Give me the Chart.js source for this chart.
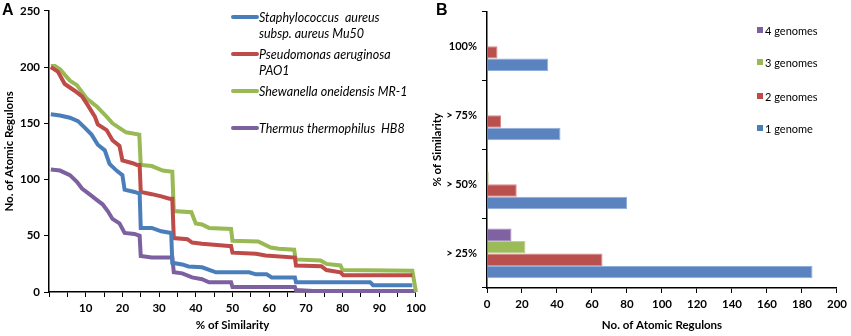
<!DOCTYPE html>
<html>
<head>
<meta charset="utf-8">
<script src="https://cdn.jsdelivr.net/npm/chart.js@4.4.1/dist/chart.umd.min.js"></script>
<style>
  html, body { margin: 0; padding: 0; background: #fff; }
  #wrap { position: relative; width: 851px; height: 336px; }
  #chartA { position: absolute; left: 0; top: 0; }
  #chartB { position: absolute; left: 430px; top: 0; }
</style>
</head>
<body>
<div id="wrap">
  <canvas id="chartA" width="430" height="336"></canvas>
  <canvas id="chartB" width="421" height="336"></canvas>
</div>
<script>
// Panel A : curvas por organismo (x = % de similitud, y = nº de regulones)
const staphX = [0.5, 3, 5.7, 7.9, 9.8, 11.6, 13.3, 15.2, 16.5, 18.4, 20, 20.6, 23.3, 24.7, 25, 28, 30.6, 33.3, 33.6, 36.3, 38, 41.7, 45.5, 54.5, 56.4, 59.3, 60.7, 67, 67.3, 87.5, 88.3, 99];
const staphY = [158, 157, 155, 152, 146, 140, 131, 126, 114, 108, 104, 91, 89, 87.5, 57, 57, 54, 52.5, 26, 24.5, 22.7, 22, 17.5, 17.5, 15.7, 15.7, 13, 13, 8.7, 8.7, 6, 6];

const pseudoX = [0.5, 2.4, 4.3, 7, 9, 10.6, 12.5, 13.3, 15.7, 17.3, 19.2, 20, 22.8, 24, 24.7, 25, 28, 30.6, 32.8, 33.6, 34, 37.7, 39, 41.7, 49, 49.6, 50, 56.4, 59, 67, 67.3, 74.2, 75.6, 79.4, 80.2, 99];
const pseudoY = [200, 196, 185, 179, 174, 166, 156, 149, 144, 135, 130, 117, 114.5, 113, 113, 89, 87, 85, 83, 83, 48, 47, 44, 43, 41, 41, 35, 34, 32.5, 30.6, 23.6, 23, 19.5, 17.5, 15, 15];

const shewX = [0.5, 1.6, 3, 5.7, 7.6, 10.3, 13, 15.7, 17.3, 21, 24.6, 25, 28, 31, 33.6, 34, 38.8, 40, 41.7, 43.6, 49.6, 50, 57, 60.4, 62.6, 66.8, 67.2, 74, 75.6, 79.4, 80, 99, 100];
const shewY = [201, 201, 198, 188, 184, 172, 165, 156, 150, 142, 140, 113, 112, 108, 107, 72, 71, 61, 60, 57, 56, 45.5, 45, 39.5, 38.5, 37.6, 29, 28, 25, 23.6, 19.5, 19, 0];

const thermX = [0.5, 3, 5.7, 7.6, 9, 11, 13, 14.6, 16, 17.3, 19.2, 20.6, 23.3, 24.7, 25, 28, 33.6, 34, 36.3, 39, 41.7, 43.6, 49.6, 50, 67, 67.3, 72, 100];
const thermY = [109, 108, 104, 98, 92, 87, 82, 78, 72, 65, 61, 52.5, 51.6, 50, 32, 30.6, 30.6, 17.5, 16.6, 13, 11.4, 8.7, 8.7, 4.4, 4.4, 1.7, 1, 0.8];

const organismos = [
  ['Staphylococcus  aureus', 'subsp. aureus Mu50'],
  ['Pseudomonas aeruginosa', 'PAO1'],
  ['Shewanella oneidensis MR-1'],
  ['Thermus thermophilus  HB8']
];

// Panel B : barras horizontales
const categorias = ['100%', '> 75%', '> 50%', '> 25%'];
const unGenoma = [35, 42, 80, 186];
const dosGenomas = [6, 8, 17, 66];
const tresGenomas = [0, 0, 1, 22];
const cuatroGenomas = [0, 0, 0, 14];
const etiquetasB = ['4 genomes', '3 genomes', '2 genomes', '1 genome'];

// Colores estilo Excel
const azul = '#4A7EBB', rojo = '#BE4B48', verde = '#98B954', morado = '#7D60A0';
const FONT = 'Lato, "Open Sans", sans-serif';

function puntos(xs, ys) {
  return xs.map((x, i) => ({ x: x, y: ys[i] }));
}

// Leyenda del panel A, dibujada dentro del área del gráfico
const leyendaA = {
  id: 'leyendaA',
  afterDraw(chart) {
    const ctx = chart.ctx;
    const colores = [azul, rojo, verde, morado];
    const ys = [17, 54, 91, 128];
    ctx.save();
    ctx.font = 'italic 12.5px ' + FONT;
    ctx.fillStyle = '#000';
    ctx.textBaseline = 'middle';
    organismos.forEach((lineas, i) => {
      ctx.strokeStyle = colores[i];
      ctx.lineWidth = 4;
      ctx.lineCap = 'round';
      ctx.beginPath();
      ctx.moveTo(233, ys[i]);
      ctx.lineTo(257, ys[i]);
      ctx.stroke();
      lineas.forEach((t, j) => ctx.fillText(t, 259, ys[i] + 1 + j * 16));
    });
    ctx.font = 'bold 16px Arial, sans-serif';
    ctx.textBaseline = 'top';
    ctx.fillText('A', 2, 3);
    ctx.restore();
  }
};

const leyendaB = {
  id: 'leyendaB',
  afterDraw(chart) {
    const ctx = chart.ctx;
    const colores = [morado, verde, rojo, azul];
    const ys = [30, 62, 96, 128];
    ctx.save();
    ctx.font = '11px ' + FONT;
    ctx.textBaseline = 'middle';
    etiquetasB.forEach((t, i) => {
      ctx.fillStyle = colores[i];
      ctx.fillRect(327, ys[i] - 3, 6, 6);
      ctx.fillStyle = '#000';
      ctx.fillText(t, 335, ys[i] + 1);
    });
    ctx.font = 'bold 16px Arial, sans-serif';
    ctx.textBaseline = 'top';
    ctx.fillText('B', 6, 3);
    ctx.restore();
  }
};

function serie(nombre, xs, ys, color) {
  return {
    label: nombre,
    data: puntos(xs, ys),
    borderColor: color,
    backgroundColor: color,
    borderWidth: 4,
    pointRadius: 0,
    tension: 0,
    clip: 4
  };
}

const ejeComun = {
  border: { color: '#000', width: 1.5 },
  ticks: { color: '#000', font: { family: FONT, size: 11.5, weight: 'bold' } },
  title: { display: true, color: '#000', font: { family: FONT, size: 11.5, weight: 'bold' } }
};

new Chart(document.getElementById('chartA').getContext('2d'), {
  type: 'line',
  data: {
    datasets: [
      serie(organismos[0].join(' '), staphX, staphY, azul),
      serie(organismos[1].join(' '), pseudoX, pseudoY, rojo),
      serie(organismos[2].join(' '), shewX, shewY, verde),
      serie(organismos[3].join(' '), thermX, thermY, morado)
    ]
  },
  options: {
    responsive: false,
    animation: false,
    layout: { padding: { top: 6, right: 12, left: 0, bottom: 0 } },
    plugins: { legend: { display: false }, tooltip: { enabled: false } },
    scales: {
      x: {
        type: 'linear', min: 0, max: 100,
        border: ejeComun.border,
        grid: { drawOnChartArea: false, drawTicks: true, tickLength: 5, tickColor: '#000' },
        ticks: Object.assign({}, ejeComun.ticks, {
          stepSize: 5, autoSkip: false, maxRotation: 0, padding: 4,
          callback: v => (v > 0 && v % 10 === 0) ? v : ''
        }),
        title: Object.assign({}, ejeComun.title, { text: '% of Similarity', padding: { top: 6, bottom: 4 } }),
        afterFit: s => { s.height = 44; }
      },
      y: {
        min: 0, max: 250,
        border: ejeComun.border,
        grid: { drawOnChartArea: false, drawTicks: true, tickLength: 5, tickColor: '#000' },
        ticks: Object.assign({}, ejeComun.ticks, { stepSize: 50, padding: 4 }),
        title: Object.assign({}, ejeComun.title, { text: 'No. of Atomic Regulons', padding: { top: 2, bottom: 0 } }),
        afterFit: s => { s.width = 49; }
      }
    }
  },
  plugins: [leyendaA]
});

function barras(nombre, datos, color, borde) {
  return {
    label: nombre,
    data: datos,
    backgroundColor: color,
    borderColor: borde,
    borderWidth: 1,
    barPercentage: 1,
    categoryPercentage: 0.72
  };
}

new Chart(document.getElementById('chartB').getContext('2d'), {
  type: 'bar',
  data: {
    labels: categorias,
    datasets: [
      barras(etiquetasB[0], cuatroGenomas, '#7E62A1', '#A38FC0'),
      barras(etiquetasB[1], tresGenomas, '#9BBB59', '#BCD38C'),
      barras(etiquetasB[2], dosGenomas, '#B9504D', '#D98A88'),
      barras(etiquetasB[3], unGenoma, '#5B83C0', '#8FAEDB')
    ]
  },
  options: {
    indexAxis: 'y',
    responsive: false,
    animation: false,
    layout: { padding: { top: 4, right: 12, left: 0, bottom: 0 } },
    plugins: { legend: { display: false }, tooltip: { enabled: false } },
    scales: {
      x: {
        min: 0, max: 200,
        border: ejeComun.border,
        grid: { drawOnChartArea: false, drawTicks: true, tickLength: 5, tickColor: '#000' },
        ticks: Object.assign({}, ejeComun.ticks, { stepSize: 20, maxRotation: 0, padding: 4 }),
        title: Object.assign({}, ejeComun.title, { text: 'No. of Atomic Regulons', padding: { top: 6, bottom: 4 } }),
        afterFit: s => { s.height = 48; }
      },
      y: {
        border: ejeComun.border,
        grid: { drawOnChartArea: false, drawTicks: true, tickLength: 5, tickColor: '#000', offset: true },
        ticks: Object.assign({}, ejeComun.ticks, { padding: 5, font: { family: FONT, size: 11, weight: 'bold' } }),
        title: Object.assign({}, ejeComun.title, { text: '% of Similarity', padding: { top: 0, bottom: 0 } }),
        afterFit: s => { s.width = 57; }
      }
    }
  },
  plugins: [leyendaB]
});
</script>
</body>
</html>
